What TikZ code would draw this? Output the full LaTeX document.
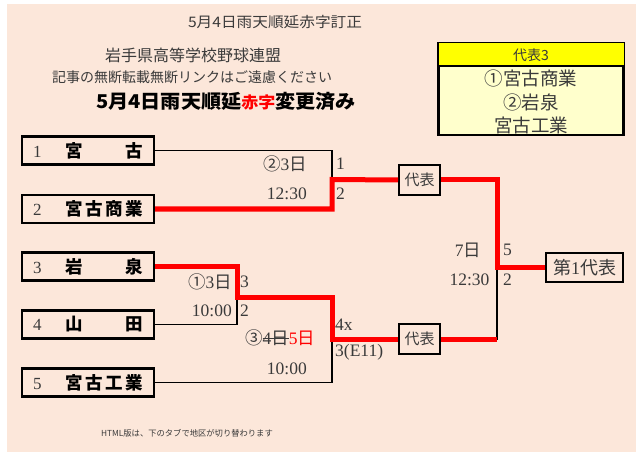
\documentclass[tikz,border=0pt]{standalone}
\usepackage{fontspec}
\setmainfont{Liberation Serif}
\newfontfamily\jp{Noto Sans CJK JP}
\definecolor{bgpeach}{HTML}{FCE7DA}
\definecolor{txtgray}{HTML}{3A3A3A}
\definecolor{lightyel}{HTML}{FFFFCC}
\definecolor{hdryel}{HTML}{FFFF00}
\definecolor{redline}{HTML}{FF0000}
\newcommand\fsz[1]{\fontsize{#1}{#1}\selectfont}
\newcommand\strk[1]{\sbox0{#1}\rlap{\color{txtgray}\rule[0.32em]{\wd0}{0.9pt}}\usebox0}
\newcommand\teamtext[2]{\hbox to 132pt{\hskip 11pt\hbox to 10pt{\color{txtgray}\fsz{17}#1\hss}\hskip 22pt\hbox to 78pt{\jp\bfseries\fsz{17.5}#2}\hss}}
\tikzset{
  team/.style={draw, line width=2.2pt, minimum width=132pt, minimum height=28pt, inner sep=0pt},
  repbox/.style={draw, line width=2pt, fill=bgpeach, minimum width=41pt, minimum height=30pt, inner sep=0pt, text=txtgray, font=\jp\fsz{15}},
  lbl/.style={inner sep=0pt, text=txtgray, font=\fsz{17.5}},
  blk/.style={line width=1.8pt, black},
  redp/.style={line width=5pt, redline},
}
\begin{document}
\begin{tikzpicture}[x=1pt,y=-1pt]
\useasboundingbox (0,0) rectangle (636,454);
\fill[white] (0,0) rectangle (636,454);
\fill[bgpeach] (7,4) rectangle (636,452);

% header texts
\node[inner sep=0, text=txtgray, font=\jp\fsz{14.5}] (title) at (275,22) {\scalebox{1.08}[1]{5月4日雨天順延赤字訂正}};
\node[inner sep=0, text=txtgray, font=\jp\fsz{16}] (fed) at (193,55) {岩手県高等学校野球連盟};
\node[inner sep=0, text=txtgray, font=\jp\fsz{14}] (warn) at (192,77) {記事の無断転載無断リンクはご遠慮ください};
\node[inner sep=0, font=\jp\bfseries\fsz{19}] (upd) at (226,101) {\scalebox{1.06}[1]{5月4日雨天順延{\color{redline}\fsz{16}赤字}変更済み}};

% representative list box
\node[draw, line width=2.2pt, fill=lightyel, minimum width=185pt, minimum height=92pt, inner sep=0pt] (repl) at (531,89) {};
\fill[hdryel] ([xshift=1.1pt,yshift=-1.1pt]repl.north west) rectangle ([xshift=-1.1pt]repl.north east |- 0,66);
\draw[line width=2.2pt] (repl.west |- 0,66) -- (repl.east |- 0,66);
\node[inner sep=0, text=txtgray, font=\jp\fsz{14}] (replh) at (531,55) {代表3};
\node[inner sep=0, text=txtgray, font=\jp\fsz{18.5}] (rep1) at (531,78) {①宮古商業};
\node[inner sep=0, text=txtgray, font=\jp\fsz{18.5}] (rep2) at (531,102) {②岩泉};
\node[inner sep=0, text=txtgray, font=\jp\fsz{18.5}] (rep3) at (531,125) {宮古工業};

% team boxes
\node[team] (t1) at (88,150.5) {\teamtext{1}{宮\hfill{}古}};
\node[team] (t2) at (88,209) {\teamtext{2}{宮\hfill{}古\hfill{}商\hfill{}業}};
\node[team] (t3) at (88,266.5) {\teamtext{3}{岩\hfill{}泉}};
\node[team] (t4) at (88,324.5) {\teamtext{4}{山\hfill{}田}};
\node[team] (t5) at (88,382.5) {\teamtext{5}{宮\hfill{}古\hfill{}工\hfill{}業}};

% representative / final boxes
\node[repbox] (r1) at (419.5,180) {代表};
\node[repbox] (r2) at (419.5,339) {代表};
\node[draw, line width=2pt, minimum width=77pt, minimum height=29pt, inner sep=0pt, text=txtgray, font=\fsz{18}] (fin) at (584.5,267.5) {{\jp 第}1{\jp 代表}};

% junction coordinates
\coordinate (a1) at (332,179.5);
\coordinate (b1) at (237,297);
\coordinate (c1) at (332,339);
\coordinate (d1) at (497,267.5);

% black (losing) paths
\draw[blk] (t1.east) -| (a1);
\draw[blk] (t4.east) -| (b1);
\draw[blk] (t5.east) -| (c1);
\draw[blk] (r2.east) -| (d1);

% red (winning) paths
\draw[redp, line join=miter] (t2.east) -| (a1) -- (r1.west);
\draw[redp, line join=miter] (t3.east) -| (b1) -| (c1) -- (r2.west);
\draw[redp, line join=miter] (r1.east) -| (d1) -- (fin.west);
\draw[redp] (r2.east) -- (r2.east -| d1);

% labels
\node[lbl, anchor=east] (l1) at (307,164) {{\jp ②}3{\jp 日}};
\node[lbl, anchor=east] (l2) at (307,194) {12:30};
\node[lbl, anchor=west] (l3) at (336,164) {1};
\node[lbl, anchor=west] (l4) at (336,194) {2};
\node[lbl, anchor=east] (l5) at (232,282) {{\jp ①}3{\jp 日}};
\node[lbl, anchor=east] (l6) at (232,311) {10:00};
\node[lbl, anchor=west] (l7) at (240,282) {3};
\node[lbl, anchor=west] (l8) at (240,311) {2};
\node[lbl, anchor=west] (l9) at (245,338) {{\jp ③}\strk{4{\jp 日}}{\color{redline}5{\jp 日}}};
\node[lbl, anchor=east] (l10) at (307,369) {10:00};
\node[lbl, anchor=west] (l11) at (335,325) {4x};
\node[lbl, anchor=west] (l12) at (335,352) {3(E11)};
\node[lbl] (l13) at (468,250) {7{\jp 日}};
\node[lbl] (l14) at (469.5,280) {12:30};
\node[lbl, anchor=west] (l15) at (503,250) {5};
\node[lbl, anchor=west] (l16) at (503,280) {2};

% footer
\node[inner sep=0, text=txtgray, font=\jp\fsz{8.3}] (foot) at (187,433) {HTML版は、下のタブで地区が切り替わります};
\end{tikzpicture}
\end{document}
